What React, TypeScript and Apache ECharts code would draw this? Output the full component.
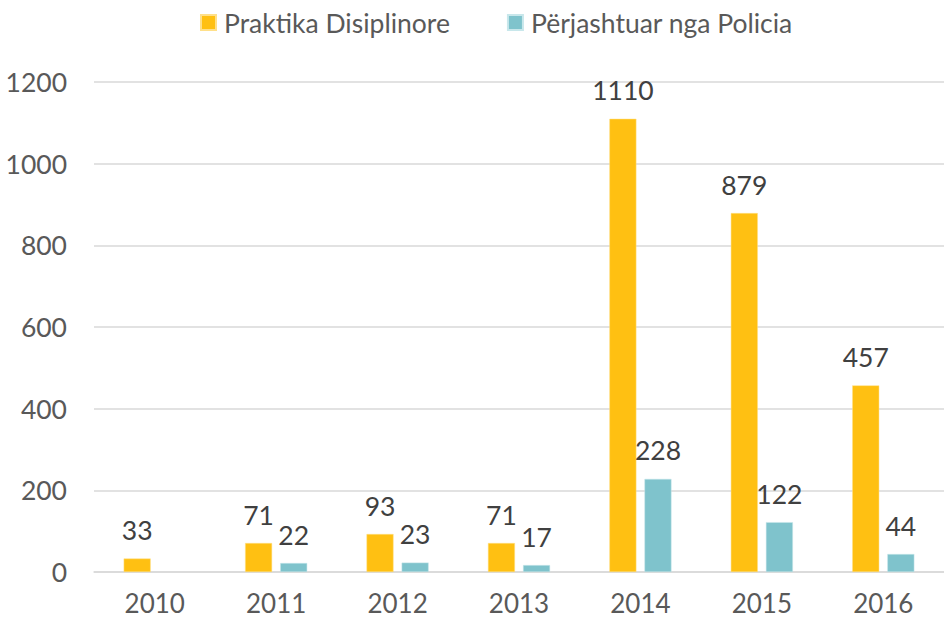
import React, { useEffect, useRef } from "react";
import * as echarts from "echarts";

const categories = ["2010", "2011", "2012", "2013", "2014", "2015", "2016"];
const disciplinary = [33, 71, 93, 71, 1110, 879, 457];
const expelled: (number | null)[] = [null, 22, 23, 17, 228, 122, 44];
const yTicks = { min: 0, max: 1200, interval: 200 };

const FONT = "Lato, 'Open Sans', sans-serif";
const FS = 26.5;

export default function App() {
  const ref = useRef<HTMLDivElement>(null);
  useEffect(() => {
    if (!ref.current) return;
    const chart = echarts.init(ref.current, undefined, { renderer: "svg" });
    const labelStyle = {
      show: true,
      position: "top" as const,
      distance: 15,
      fontSize: FS,
      color: "#404040",
      fontFamily: FONT,
    };
    chart.setOption({
      animation: false,
      textStyle: { fontFamily: FONT },
      legend: {
        top: 4,
        left: 195,
        itemWidth: 15,
        itemHeight: 15,
        itemGap: 57,
        icon: "rect",
        textStyle: { fontSize: FS, color: "#595959", fontFamily: FONT, padding: [0, 0, 0, 3] },
        data: ["Praktika Disiplinore", "Përjashtuar nga Policia"],
      },
      grid: { left: 94, right: -6, top: 82, bottom: 47, containLabel: false },
      xAxis: {
        type: "category",
        data: categories,
        axisLine: { lineStyle: { color: "#D9D9D9", width: 1.5 } },
        axisTick: { show: false },
        axisLabel: { fontSize: 26, lineHeight: 26, color: "#595959", margin: 18, fontFamily: FONT },
      },
      yAxis: {
        type: "value",
        min: yTicks.min,
        max: yTicks.max,
        interval: yTicks.interval,
        axisLine: { show: false },
        axisTick: { show: false },
        splitLine: { lineStyle: { color: "#D9D9D9", width: 1.5 } },
        axisLabel: {
          fontSize: FS,
          color: "#595959",
          margin: 27,
          fontFamily: FONT,
          formatter: (v: number) => String(v),
        },
      },
      series: [
        {
          name: "Praktika Disiplinore",
          type: "bar",
          data: disciplinary,
          barWidth: 27,
          barGap: "30%",
          itemStyle: { color: "#FFC012", borderColor: "#FFE08A", borderWidth: 0.5 },
          label: labelStyle,
        },
        {
          name: "Përjashtuar nga Policia",
          type: "bar",
          data: expelled,
          barWidth: 27,
          barGap: "30%",
          itemStyle: { color: "#7FC3CC", borderColor: "#C8E7EB", borderWidth: 0.5 },
          label: labelStyle,
        },
      ],
    });
    return () => chart.dispose();
  }, []);
  return <div ref={ref} style={{ width: 944, height: 619, position: "absolute", left: 0, top: 0, background: "#fff" }} />;
}
